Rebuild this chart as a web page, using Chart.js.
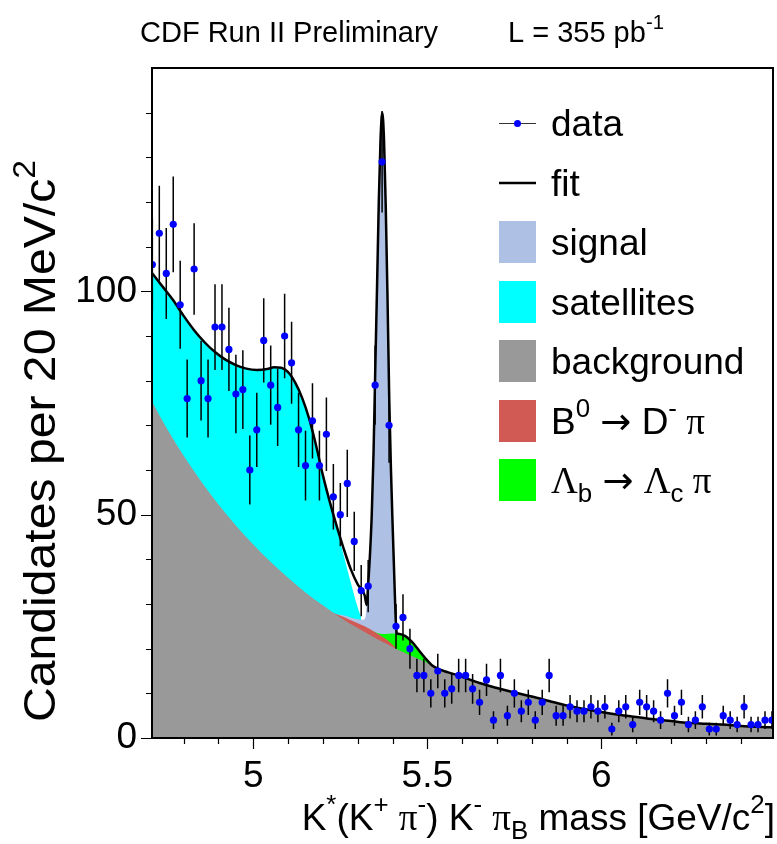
<!DOCTYPE html>
<html>
<head>
<meta charset="utf-8">
<script src="https://cdn.jsdelivr.net/npm/chart.js@4.4.1/dist/chart.umd.min.js"></script>
<style>
  html, body { margin: 0; padding: 0; background: #fff; }
  #wrap { width: 777px; height: 844px; position: relative; }
</style>
</head>
<body>
<div id="wrap"><canvas id="massChart"></canvas></div>
<script>
// histogram bins (GeV/c^2) and candidates per 20 MeV/c^2
const binCenters = [
  4.71, 4.73, 4.75, 4.77, 4.79, 4.81, 4.83, 4.85, 4.87, 4.89,
  4.91, 4.93, 4.95, 4.97, 4.99, 5.01, 5.03, 5.05, 5.07, 5.09,
  5.11, 5.13, 5.15, 5.17, 5.19, 5.21, 5.23, 5.25, 5.27, 5.29,
  5.31, 5.33, 5.35, 5.37, 5.39, 5.41, 5.43, 5.45, 5.47, 5.49,
  5.51, 5.53, 5.55, 5.57, 5.59, 5.61, 5.63, 5.65, 5.67, 5.69,
  5.71, 5.73, 5.75, 5.77, 5.79, 5.81, 5.83, 5.85, 5.87, 5.89,
  5.91, 5.93, 5.95, 5.97, 5.99, 6.01, 6.03, 6.05, 6.07, 6.09,
  6.11, 6.13, 6.15, 6.17, 6.19, 6.21, 6.23, 6.25, 6.27, 6.29,
  6.31, 6.33, 6.35, 6.37, 6.39, 6.41, 6.43, 6.45, 6.47, 6.49
];
const candidates = [
  106, 113, 104, 115, 97, 76, 105, 80, 76, 92,
  92, 87, 77, 78, 60, 69, 89, 79, 74, 90,
  84, 69, 61, 71, 61, 68, 54, 50, 57, 44,
  33, 34, 79, 129, 70, 25, 27, 20, 14, 14,
  10, 15, 10, 11, 14, 14, 11, 8, 13, 4,
  14, 5, 10, 6, 8, 4, 8, 14, 5, 5,
  7, 6, 6, 7, 6, 7, 2, 6, 7, 3,
  8, 7, 6, 4, 10, 5, 8, 3, 4, 7,
  2, 2, 5, 4, 3, 7, 3, 3, 4, 4
];

// fit curve (total)
const fitMass = [
  4.71, 4.74, 4.77, 4.80, 4.83, 4.86, 4.89, 4.92, 4.95, 4.98,
  5.01, 5.04, 5.06, 5.08, 5.10, 5.12, 5.14, 5.16, 5.18, 5.20,
  5.22, 5.24, 5.26, 5.28, 5.30, 5.31, 5.32, 5.3255, 5.3305, 5.3355,
  5.3405, 5.3455, 5.3505, 5.3555, 5.3605, 5.3655, 5.3705, 5.3755, 5.3805, 5.3855,
  5.3905, 5.3955, 5.4005, 5.4055, 5.4095, 5.4125, 5.42, 5.437, 5.456, 5.475,
  5.495, 5.513, 5.533, 5.56, 5.60, 5.65, 5.70, 5.75, 5.80, 5.85,
  5.90, 5.95, 6.00, 6.05, 6.10, 6.15, 6.20, 6.25, 6.30, 6.35,
  6.40, 6.45, 6.49
];
const fitValues = [
  104, 101, 98, 94.5, 91.3, 88.6, 86.4, 84.7, 83.5, 82.7,
  82.4, 82.6, 83.0, 82.9, 81.9, 79.6, 76.2, 71.6, 65.6, 58.8,
  52.8, 47.3, 42.3, 37.8, 34.4, 33.3, 31.9, 29.8, 35.0, 41.5,
  50.5, 64, 83, 101, 120, 134, 140, 134, 119, 99,
  76, 60, 47, 35, 26, 23.4, 23.3, 22.8, 21.5, 19.7,
  17.8, 16.3, 15.4, 14.7, 13.7, 12.3, 11.2, 10.2, 9.3, 8.3,
  7.3, 6.5, 5.8, 5.2, 4.7, 4.2, 3.8, 3.4, 3.2, 3.0,
  2.7, 2.5, 2.4
];

// combinatorial background (top of grey area)
const bkgMass = [
  4.71, 4.75, 4.80, 4.85, 4.90, 4.95, 5.00, 5.05, 5.10, 5.15,
  5.20, 5.25, 5.30, 5.35, 5.40, 5.45, 5.50, 5.55, 5.60, 5.65,
  5.70, 5.75, 5.80, 5.85, 5.90, 5.95, 6.00, 6.05, 6.10, 6.15,
  6.20, 6.25, 6.30, 6.35, 6.40, 6.45, 6.49
];
const bkgValues = [
  75.2, 69.5, 63.2, 57.5, 52.3, 47.6, 43.3, 39.4, 35.9, 32.6,
  29.7, 27.0, 24.6, 22.4, 20.4, 18.5, 16.8, 15.0, 13.7, 12.3,
  11.2, 10.2, 9.3, 8.3, 7.3, 6.5, 5.8, 5.2, 4.7, 4.2,
  3.8, 3.4, 3.2, 3.0, 2.7, 2.5, 2.4
];

// B0 -> D- pi reflection (top of red band)
const bdMass = [5.23, 5.26, 5.29, 5.32, 5.35, 5.38, 5.41];
const bdValues = [28.0, 27.1, 26.0, 25.0, 23.7, 22.2, 20.2];

// Lambda_b -> Lambda_c pi reflection (top of green band)
const lbMass = [5.345, 5.36, 5.38, 5.40, 5.4125, 5.42, 5.437, 5.456, 5.475, 5.495, 5.513, 5.533, 5.56];
const lbValues = [23.9, 23.4, 23.3, 23.4, 23.4, 23.3, 22.8, 21.5, 19.7, 17.8, 16.3, 15.4, 14.7];

// satellites (top of cyan area)
const satMass = [
  4.71, 4.74, 4.77, 4.80, 4.83, 4.86, 4.89, 4.92, 4.95, 4.98,
  5.01, 5.04, 5.06, 5.08, 5.10, 5.12, 5.14, 5.16, 5.18, 5.20,
  5.22, 5.24, 5.26, 5.28, 5.30, 5.31
];
const satValues = [
  104, 101, 98, 94.5, 91.3, 88.6, 86.4, 84.7, 83.5, 82.7,
  82.4, 82.6, 83.0, 82.9, 81.9, 79.6, 76.2, 71.6, 65.6, 58.8,
  52.8, 46.8, 40.8, 34.8, 29.2, 27.0
];

// signal (top of light blue area)
const sigMass = [
  5.24, 5.26, 5.28, 5.30, 5.315, 5.322, 5.3255, 5.3305, 5.3355, 5.3405,
  5.3455, 5.3505, 5.3555, 5.3605, 5.3655, 5.3705, 5.3755, 5.3805, 5.3855, 5.3905,
  5.3955, 5.4005, 5.4055, 5.4095, 5.4125
];
const sigValues = [
  27.6, 27.5, 27.0, 26.6, 26.5, 27.0, 29.8, 35.0, 41.5, 50.5,
  64, 83, 101, 120, 134, 140, 134, 119, 99, 76,
  60, 47, 35, 26, 23.4
];

const massTickLabels = [5, 5.5, 6];
const countTickLabels = [0, 50, 100];

const FONT = "'Liberation Sans', Arial, Helvetica, sans-serif";
const SERIF = "'Liberation Serif', 'Times New Roman', serif";
const SYMBOL = "'DejaVu Sans', sans-serif";

const toXY = (xs, ys) => xs.map((v, i) => ({ x: v, y: ys[i] }));

// text with super/subscripts: parts are [text, kind, family]
function drawRich(ctx, parts, x, y, size, align) {
  const fontOf = p => {
    const s = (p[1] === 'sup' || p[1] === 'sub') ? size * 0.7 : size;
    return s + 'px ' + (p[2] || FONT);
  };
  let total = 0;
  const widths = parts.map(p => {
    ctx.font = fontOf(p);
    const w = ctx.measureText(p[0]).width;
    total += w;
    return w;
  });
  let cx = align === 'right' ? x - total : (align === 'center' ? x - total / 2 : x);
  ctx.textAlign = 'left';
  ctx.textBaseline = 'alphabetic';
  parts.forEach((p, i) => {
    ctx.font = fontOf(p);
    const dy = p[1] === 'sup' ? -0.45 * size : (p[1] === 'sub' ? 0.25 * size : 0);
    ctx.fillText(p[0], cx, y + dy);
    cx += widths[i];
  });
}

const errorBars = {
  id: 'errorBars',
  beforeDatasetDraw(chart, args) {
    if (args.index !== 0) return;
    const { ctx, chartArea: a, scales: { x, y } } = chart;
    ctx.save();
    ctx.beginPath();
    ctx.rect(a.left, a.top, a.right - a.left, a.bottom - a.top);
    ctx.clip();
    ctx.strokeStyle = '#000';
    ctx.lineWidth = 1.5;
    ctx.beginPath();
    binCenters.forEach((m, i) => {
      const n = candidates[i];
      const err = Math.sqrt(n);
      const px = x.getPixelForValue(m);
      ctx.moveTo(px, y.getPixelForValue(n - err));
      ctx.lineTo(px, y.getPixelForValue(n + err));
    });
    ctx.stroke();
    ctx.restore();
  }
};

const decorations = {
  id: 'decorations',
  afterDraw(chart) {
    const { ctx, chartArea: a, scales: { x, y } } = chart;
    ctx.save();
    ctx.fillStyle = '#000';
    ctx.strokeStyle = '#000';

    // ticks outside the frame
    ctx.lineWidth = 1.2;
    ctx.beginPath();
    x.ticks.forEach(t => {
      const px = Math.round(x.getPixelForValue(t.value)) + 0.5;
      const len = massTickLabels.includes(t.value) ? 11 : 6;
      ctx.moveTo(px, a.bottom);
      ctx.lineTo(px, a.bottom + len);
    });
    y.ticks.forEach(t => {
      const py = Math.round(y.getPixelForValue(t.value)) + 0.5;
      const len = countTickLabels.includes(t.value) ? 11 : 6;
      ctx.moveTo(a.left, py);
      ctx.lineTo(a.left - len, py);
    });
    ctx.stroke();

    // frame
    ctx.lineWidth = 2;
    ctx.strokeRect(a.left, a.top, a.right - a.left, a.bottom - a.top);

    // header
    drawRich(ctx, [['CDF Run II Preliminary']], 140, 42, 29, 'left');
    drawRich(ctx, [['L = 355 pb'], ['-1', 'sup']], 508, 42, 29, 'left');

    // x title
    drawRich(ctx, [
      ['K'], ['*', 'sup'], ['(K'], ['+', 'sup'], [' '], ['\u03c0', '', SERIF], ['-', 'sup'],
      [') K'], ['-', 'sup'], [' '], ['\u03c0', '', SERIF], ['B', 'sub'], [' mass [GeV/c'], ['2', 'sup'], [']']
    ], 775, 830, 37, 'right');

    // y title, slightly stretched along its length like the original
    ctx.save();
    ctx.translate(55, 160);
    ctx.rotate(-Math.PI / 2);
    ctx.scale(1.07, 1);
    drawRich(ctx, [['Candidates per 20 MeV/c'], ['2', 'sup']], 0, 0, 45, 'right');
    ctx.restore();

    // legend
    const lx = 499, lw = 37, tx = 551, size = 37;
    ctx.lineWidth = 1;
    ctx.strokeStyle = '#333';
    ctx.beginPath();
    ctx.moveTo(lx, 123.5); ctx.lineTo(lx + lw, 123.5);
    ctx.stroke();
    ctx.fillStyle = '#0000ff';
    ctx.beginPath();
    ctx.arc(lx + lw / 2, 123.5, 3.5, 0, Math.PI * 2);
    ctx.fill();
    ctx.strokeStyle = '#000';
    ctx.lineWidth = 2.5;
    ctx.beginPath();
    ctx.moveTo(lx, 183); ctx.lineTo(lx + lw, 183);
    ctx.stroke();

    const boxes = [
      { c: '#aec0e3', y: 242, t: [['signal']] },
      { c: '#00ffff', y: 302, t: [['satellites']] },
      { c: '#999999', y: 361, t: [['background']] },
      { c: '#d25a55', y: 421, t: [['B'], ['0', 'sup'], [' '], ['\u2192', '', SYMBOL], [' D'], ['-', 'sup'], [' \u03c0', '', SERIF]] },
      { c: '#00ff00', y: 480, t: [['\u039b', '', SERIF], ['b', 'sub'], [' '], ['\u2192', '', SYMBOL], [' '], ['\u039b', '', SERIF], ['c', 'sub'], [' \u03c0', '', SERIF]] }
    ];
    boxes.forEach(b => {
      ctx.fillStyle = b.c;
      ctx.fillRect(lx, b.y - 21, lw, 42);
    });
    ctx.fillStyle = '#000';
    drawRich(ctx, [['data']], tx, 136, size, 'left');
    drawRich(ctx, [['fit']], tx, 196, size, 'left');
    boxes.forEach(b => drawRich(ctx, b.t, tx, b.y + 13, size, 'left'));

    ctx.restore();
  }
};

const areaStyle = (color) => ({
  borderWidth: 0,
  pointRadius: 0,
  fill: 'origin',
  backgroundColor: color,
  cubicInterpolationMode: 'monotone'
});

new Chart(document.getElementById('massChart'), {
  type: 'line',
  data: {
    datasets: [
      {
        label: 'data',
        data: toXY(binCenters, candidates),
        showLine: false,
        pointRadius: 3.6,
        pointBorderWidth: 0,
        pointBackgroundColor: '#0000ff',
        pointStyle: 'circle'
      },
      {
        label: 'fit',
        data: toXY(fitMass, fitValues),
        borderColor: '#000',
        borderWidth: 2.5,
        pointRadius: 0,
        fill: false,
        cubicInterpolationMode: 'monotone'
      },
      Object.assign({ label: 'background', data: toXY(bkgMass, bkgValues) }, areaStyle('#999999')),
      Object.assign({ label: 'B0 -> D- pi', data: toXY(bdMass, bdValues) }, areaStyle('#d25a55')),
      Object.assign({ label: 'Lb -> Lc pi', data: toXY(lbMass, lbValues) }, areaStyle('#00ff00')),
      Object.assign({ label: 'signal', data: toXY(sigMass, sigValues) }, areaStyle('#aec0e3')),
      Object.assign({ label: 'satellites', data: toXY(satMass, satValues) }, areaStyle('#00ffff'))
    ]
  },
  options: {
    responsive: true,
    maintainAspectRatio: false,
    animation: false,
    events: [],
    layout: { padding: { top: 68, right: 1, left: 0, bottom: 0 } },
    scales: {
      x: {
        type: 'linear',
        min: 4.709,
        max: 6.493,
        grid: { display: false, drawTicks: false },
        border: { display: false },
        afterFit(scale) { scale.height = 106; },
        afterBuildTicks(scale) {
          const t = [];
          for (let v = 4.8; v < 6.45; v += 0.1) t.push({ value: Math.round(v * 10) / 10 });
          scale.ticks = t;
        },
        ticks: {
          autoSkip: false,
          maxRotation: 0,
          padding: 17,
          color: '#000',
          font: { family: FONT, size: 37 },
          callback: (v) => massTickLabels.includes(v) ? String(v) : ''
        }
      },
      y: {
        min: 0,
        max: 150,
        grid: { display: false, drawTicks: false },
        border: { display: false },
        afterFit(scale) { scale.width = 152; },
        afterBuildTicks(scale) {
          const t = [];
          for (let v = 0; v <= 140; v += 10) t.push({ value: v });
          scale.ticks = t;
        },
        ticks: {
          autoSkip: false,
          padding: 15,
          color: '#000',
          font: { family: FONT, size: 37 },
          callback: (v) => countTickLabels.includes(v) ? String(v) : ''
        }
      }
    },
    plugins: {
      legend: { display: false },
      tooltip: { enabled: false }
    }
  },
  plugins: [errorBars, decorations]
});
</script>
</body>
</html>
